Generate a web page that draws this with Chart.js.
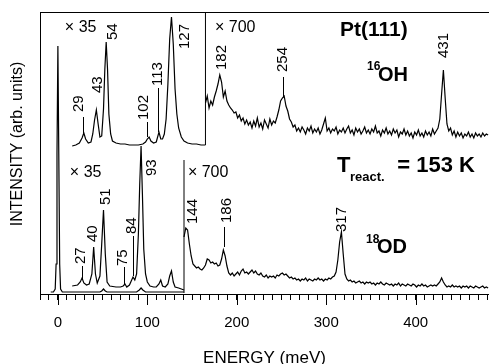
<!DOCTYPE html>
<html><head><meta charset="utf-8">
<script src="https://cdn.jsdelivr.net/npm/chart.js@4.4.1/dist/chart.umd.min.js"></script>
<style>html,body{margin:0;padding:0;background:#fff}#wrap{width:489px;height:364px;position:relative}</style>
</head><body><div id="wrap"><canvas id="c" width="489" height="364"></canvas></div>
<script>
// ---------------- DATA (energy in meV, intensity in arbitrary plot units) ----------------
const xTickLabels = ['0', '100', '200', '300', '400'];

// 18OD spectrum, x1 part (with elastic peak)
const od_x1_E = [-8,-5,-3,-2,-1,0,1,2,3,5,10,20,30,40,47,49,51,53,55,60,70,80,88,91,93,95,98,105,115,125,135,141];
const od_x1_I = [2,2,5,30,140,248,140,30,5,2,2,2,2,2,2,3,5,3,2,2,2,2,2,4,6,4,2,2,2,2,2,2];

// 16OH spectrum, x35 part
const oh_x35_E = [16,20,24,27,29,31,34,37,39,41,43,45,47,49,51,52.5,54,55.5,57,59,61,65,70,75,80,85,90,95,98,100,102,104,107,110,113,115,117,119,121,123,125,127,129,131,133,135,138,141,145,150,155,160,165];
const oh_x35_I = [148,149,151,156,161,155,151,152,160,174,184,170,157,158,185,225,252,225,180,160,153,151,150,150,149,149,149,150,152,155,157,153,151,152,162,155,155,160,175,210,255,277,250,205,180,166,157,153,151,150,150,149,149];

// 18OD spectrum, x35 part
const od_x35_E = [16,22,25,27,29,32,35,38,40,42,44,47,49,51,53,55,58,65,70,73,75,77,80,82,84,86,88,90,91.5,93,94.5,96,98,100,103,107,110,113,115,117,120,123,125,127,129,131,135,141];
const od_x35_I = [8,9,12,16,11,9,10,20,47,20,11,18,50,84,40,12,8,7,7,8,10,7,9,13,17,14,20,60,110,148,100,45,20,12,8,7,7,10,14,8,7,10,18,23,12,7,6,4];

// 16OH spectrum, x700 part: channels every 2 meV from 165 meV
const oh_x700_start = 165, oh_x700_step = 2;
const oh_x700_I = [
 191,198,186,193,189,197,203,210,219,212,
 197,203,193,189,186,184,181,182,176,179,
 173,176,170,174,169,172,166,173,168,176,
 167,171,165,174,170,166,175,169,173,171,
 177,184,193,196,198,188,183,175,172,167,
 169,163,166,162,167,164,160,166,163,168,
 161,165,162,166,160,164,170,176,163,166,
 161,165,163,167,160,164,162,166,161,165,
 168,161,164,159,166,162,165,160,163,167,
 161,164,160,165,162,168,161,163,158,164,
 161,166,160,163,159,165,161,164,157,162,
 160,165,159,163,158,161,156,162,159,164,
 158,161,157,163,159,162,158,165,160,163,
 166,175,200,224,196,170,163,166,159,163,
 157,162,158,161,156,160,158,162,157,160,
 156,161,158,160,157,161,158,160,159];

// 18OD spectrum, x700 part: channels every 2 meV from 141 meV
const od_x700_start = 141, od_x700_step = 2;
const od_x700_I = [
 57,66,64,50,38,30,28,26,27,25,
 24,26,29,35,34,31,32,30,31,28,
 29,35,44,38,28,21,19,21,18,20,
 22,19,23,25,21,22,20,22,24,21,
 23,20,19,21,18,17,19,16,18,17,
 18,16,19,18,20,21,19,20,18,16,
 17,15,16,14,15,13,15,14,16,13,
 15,14,13,15,14,16,14,15,13,15,
 14,16,15,17,18,22,34,52,62,40,
 20,15,13,14,12,13,11,12,13,11,
 12,10,12,11,12,10,11,9,11,10,
 12,10,9,11,10,9,10,8,10,9,
 11,8,10,9,8,10,9,8,10,9,
 7,9,8,10,8,9,7,8,9,8,
 9,8,10,12,16,12,9,7,8,7,
 9,7,8,7,8,6,8,7,8,6,
 8,7,6,8,7,6,7,8,6,7,
 6];

// scale-change separators (energy, intensity span)
const sepTop_E = 165, sepTop_I = [149, 282];
const sepBot_E = 141, sepBot_I = [1, 134];

// peak labels (meV)
const peaksOH = [29,43,54,102,113,127,182,254,431];
const peaksOD = [27,40,51,75,84,93,144,186,317];

// ---------------- LABEL LAYOUT (separate from data) ----------------
// [textCenterE, textBottomI, leaderE, leaderI1, leaderI2]
const layoutOH = [[22.9,182,28,177,161],[44.2,201],[61.5,254],[96.2,174,100.1,172,157],[111.9,208,111.9,206,162],[142,245],[183.4,224],[251.7,222,252,217,197],[431.8,236]];
const layoutOD = [[25.7,30,26.8,28,15],[39.1,52],[53.7,89],[72.7,28,73.8,27,10],[82.8,60,83.9,58,18],[105.1,118],[151,70],[189,71,185.7,67,47],[317.7,62]];

const FONT = '"Liberation Sans", Arial, Helvetica, sans-serif';

function pairs(E, I) { return E.map((e, i) => ({x: e, y: I[i]})); }
function grid(start, step, I) { return I.map((v, i) => ({x: start + i * step, y: v})); }

const lineStyle = {borderColor: '#000', borderWidth: 1.2, pointRadius: 0, tension: 0, fill: false};

const annot = {
  id: 'annot',
  afterDatasetsDraw(chart) {
    const ctx = chart.ctx, xs = chart.scales.x, ys = chart.scales.y, ca = chart.chartArea;
    const X = e => xs.getPixelForValue(e), Y = v => ys.getPixelForValue(v);
    ctx.save();
    ctx.fillStyle = '#000'; ctx.strokeStyle = '#000';
    function peakLabels(peaks, layout) {
      ctx.font = '15px ' + FONT;
      peaks.forEach((p, i) => {
        const L = layout[i];
        ctx.save();
        ctx.translate(X(L[0]), Y(L[1]));
        ctx.rotate(-Math.PI / 2);
        ctx.textAlign = 'left'; ctx.textBaseline = 'middle';
        ctx.fillText(String(p), 0, 0);
        ctx.restore();
        if (L.length > 2) {
          ctx.lineWidth = 1;
          ctx.beginPath();
          ctx.moveTo(Math.round(X(L[2])) + 0.5, Y(L[3]));
          ctx.lineTo(Math.round(X(L[2])) + 0.5, Y(L[4]));
          ctx.stroke();
        }
      });
    }
    peakLabels(peaksOH, layoutOH);
    peakLabels(peaksOD, layoutOD);
    ctx.textAlign = 'left'; ctx.textBaseline = 'middle';
    ctx.font = '16px ' + FONT;
    ctx.fillText('\u00d7 35', X(7.8), Y(266));
    ctx.fillText('\u00d7 700', X(175.6), Y(266));
    ctx.fillText('\u00d7 35', X(13.4), Y(121));
    ctx.fillText('\u00d7 700', X(145.4), Y(121));
    ctx.font = 'bold 21px ' + FONT;
    ctx.fillText('Pt(111)', X(315.4), Y(264));
    ctx.font = 'bold 12px ' + FONT;
    ctx.fillText('16', X(345.6), Y(227));
    ctx.font = 'bold 20px ' + FONT;
    ctx.fillText('OH', X(357.9), Y(219));
    ctx.font = 'bold 12px ' + FONT;
    ctx.fillText('18', X(344.5), Y(54));
    ctx.font = 'bold 20px ' + FONT;
    ctx.fillText('OD', X(356.8), Y(47));
    // T_react. = 153 K
    ctx.font = 'bold 22px ' + FONT;
    ctx.fillText('T', X(312), Y(128));
    ctx.font = 'bold 13px ' + FONT;
    ctx.fillText('react.', X(326.5), Y(117));
    ctx.font = 'bold 22px ' + FONT;
    ctx.fillText('= 153 K', X(379.5), Y(128));
    // y-axis title
    ctx.save();
    ctx.font = '16px ' + FONT;
    ctx.translate(ca.left - 22, Y(150));
    ctx.rotate(-Math.PI / 2);
    ctx.textAlign = 'center'; ctx.textBaseline = 'middle';
    ctx.fillText('INTENSITY (arb. units)', 0, 0);
    ctx.restore();
    // longer major ticks
    ctx.lineWidth = 1;
    xTickLabels.forEach(t => {
      const px = Math.round(X(Number(t))) + 0.5;
      ctx.beginPath(); ctx.moveTo(px, ca.bottom); ctx.lineTo(px, ca.bottom + 11); ctx.stroke();
    });
    ctx.restore();
  }
};

function fixBox(size) {
  return s => {
    if (s.isHorizontal()) s.height = size; else s.width = size;
    s.paddingLeft = 0; s.paddingRight = 0; s.paddingTop = 0; s.paddingBottom = 0;
  };
}

new Chart(document.getElementById('c'), {
  type: 'line',
  data: {
    datasets: [
      Object.assign({data: pairs(od_x1_E, od_x1_I)}, lineStyle),
      Object.assign({data: pairs(oh_x35_E, oh_x35_I)}, lineStyle),
      Object.assign({data: pairs(od_x35_E, od_x35_I)}, lineStyle),
      Object.assign({data: grid(oh_x700_start, oh_x700_step, oh_x700_I)}, lineStyle),
      Object.assign({data: grid(od_x700_start, od_x700_step, od_x700_I)}, lineStyle),
      Object.assign({data: sepTop_I.map(v => ({x: sepTop_E, y: v}))}, lineStyle, {borderWidth: 1}),
      Object.assign({data: sepBot_I.map(v => ({x: sepBot_E, y: v}))}, lineStyle, {borderWidth: 1})
    ]
  },
  options: {
    responsive: false, animation: false, devicePixelRatio: 1,
    layout: {padding: 0},
    plugins: {legend: {display: false}, tooltip: {enabled: false}, title: {display: false}},
    scales: {
      x: {
        type: 'linear', position: 'bottom', min: -20, max: 482,
        afterFit: fixBox(70),
        grid: {display: true, drawOnChartArea: false, drawTicks: true, tickLength: 6, color: '#000', lineWidth: 1},
        border: {display: true, color: '#000', width: 1},
        ticks: {stepSize: 10, autoSkip: false, maxRotation: 0, includeBounds: false, padding: 14, color: '#000',
          font: {family: FONT, size: 15},
          callback: v => xTickLabels.includes(String(v)) ? String(v) : ''},
        title: {display: true, text: 'ENERGY (meV)', color: '#000', font: {family: FONT, size: 17, lineHeight: 0.7}, padding: 0}
      },
      x2: {
        type: 'linear', position: 'top', min: -20, max: 482,
        afterFit: fixBox(12),
        grid: {display: false}, ticks: {display: false},
        border: {display: true, color: '#000', width: 1}
      },
      y: {
        type: 'linear', position: 'left', min: 0, max: 282,
        afterFit: fixBox(40),
        grid: {display: false}, ticks: {display: false},
        border: {display: true, color: '#000', width: 1}
      }
    }
  },
  plugins: [annot]
});
</script></body></html>
